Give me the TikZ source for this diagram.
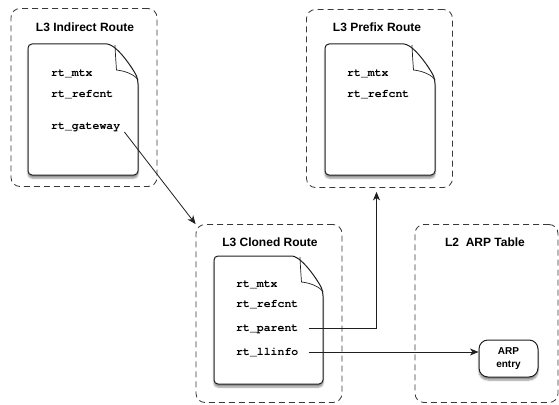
\documentclass[tikz,border=0pt]{standalone}
\usepackage{fontspec}
\setsansfont{Liberation Sans}
\newfontfamily\codefont{texgyrecursor}[Extension=.otf, UprightFont=*-regular, BoldFont=*-bold]
\usetikzlibrary{arrows.meta,shadows.blur,calc}

\tikzset{
  groupbox/.style={draw=black!78, line width=0.8pt, dash pattern=on 6pt off 4pt,
    rounded corners=9pt, minimum width=146pt, minimum height=178pt, inner sep=0pt},
  grouptitle/.style={font=\sffamily\bfseries\fontsize{12}{14}\selectfont, inner sep=0pt},
  field/.style={font=\codefont\bfseries\fontsize{11.5}{13}\selectfont, anchor=west,
    inner sep=0pt, text height=8pt, text depth=2pt},
  sheet/.style={fill=white, draw=black!88, line width=1pt,
    blur shadow={shadow xshift=0pt, shadow yshift=-3pt, shadow blur steps=6, shadow opacity=45}},
  flap/.style={draw=black!88, line width=0.7pt},
  link/.style={draw=black!88, line width=0.8pt, -{Stealth[length=8.5pt,width=7pt,inset=2.5pt]}},
  entrynode/.style={fill=white, draw=black!88, line width=1pt, rounded corners=9pt,
    minimum width=59pt, minimum height=37pt, inner sep=0pt, align=center,
    font=\sffamily\bfseries\fontsize{10}{13}\selectfont,
    blur shadow={shadow xshift=0pt, shadow yshift=-3pt, shadow blur steps=6, shadow opacity=45}}
}

% a sheet of paper with a curled top-right corner: #1,#2 top left, #3,#4 bottom right
\newcommand\papersheet[4]{%
  \path[sheet] ({#3-31},#2) [rounded corners=4pt] -- (#1,#2) -- (#1,#4) -- (#3,#4)
    -- (#3,{#2+36}) [sharp corners] .. controls ({#3-3},{#2+28}) and ({#3-20},{#2+1}) .. ({#3-31},#2) -- cycle;
  \draw[flap] ({#3-23},{#2+1}) .. controls ({#3-22.5},{#2+12}) .. ({#3-21.5},{#2+26})
    .. controls ({#3-12},{#2+27}) and ({#3-3},{#2+31}) .. (#3,{#2+36});
}

\begin{document}
\begin{tikzpicture}[x=1pt, y=-1pt]
\useasboundingbox (0,0) rectangle (559,404);

% group frames
\node[groupbox] (indirect) at (84,97.5) {};
\node[groupbox] (prefix)   at (379.5,98.5) {};
\node[groupbox] (cloned)   at (269,313.5) {};
\node[groupbox, minimum width=143pt] (arptable) at (486.5,313.5) {};

\node[grouptitle] (tindirect) at (85,27)  {L3 Indirect Route};
\node[grouptitle] (tprefix)   at (377,27) {L3 Prefix Route};
\node[grouptitle] (tcloned)   at (270,242) {L3 Cloned Route};
\node[grouptitle] (tarp)      at (485,242) {L2\ \ ARP Table};

% route entries
\papersheet{28}{44}{138}{175}
\papersheet{325}{44}{435}{175}
\papersheet{214}{256}{323}{384}

\node[field] (imtx)    at (51,73)  {rt\_mtx};
\node[field] (irefcnt) at (51,94)  {rt\_refcnt};
\node[field] (igw)     at (51,126) {rt\_gateway};

\node[field] (pmtx)    at (347,73) {rt\_mtx};
\node[field] (prefcnt) at (347,94) {rt\_refcnt};

\node[field] (cmtx)    at (236,284) {rt\_mtx};
\node[field] (crefcnt) at (236,304) {rt\_refcnt};
\node[field] (cparent) at (236,328) {rt\_parent};
\node[field] (cllinfo) at (236,352) {rt\_llinfo};

% ARP entry
\node[entrynode] (arp) at (508.5,358.5) {ARP\\entry};

% references
\draw[link] ($(igw.east)+(4,6)$) -- (cloned.north west);
\draw[link, shorten >=4pt] ($(cparent.east)+(10,0)$) -| ($(prefix.south)+(-3,0)$);
\draw[link] ($(cllinfo.east)+(10,0)$) -- (arp.west |- cllinfo.east);
\end{tikzpicture}
\end{document}
